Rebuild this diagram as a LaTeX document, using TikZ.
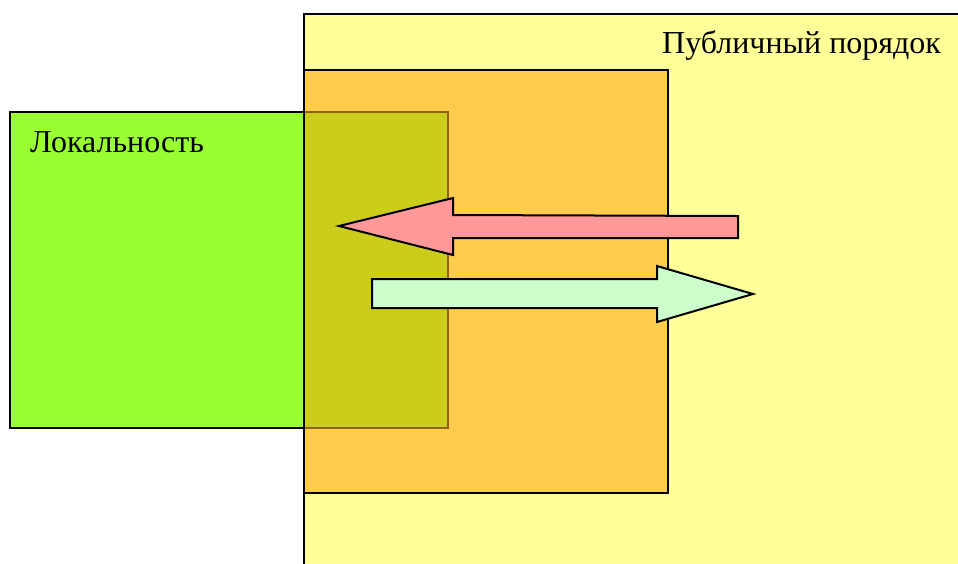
\documentclass[tikz,border=0pt]{standalone}
\usepackage{fontspec}
\setmainfont{Liberation Serif}
\definecolor{pubyellow}{HTML}{FFFF99}
\definecolor{midorange}{HTML}{FFCC4D}
\definecolor{locgreen}{HTML}{99FF33}
\definecolor{overolive}{HTML}{CCCC1A}
\definecolor{overedge}{HTML}{8C6414}
\definecolor{arrowred}{HTML}{FF9999}
\definecolor{arrowgreen}{HTML}{CCFFCC}
\tikzset{
  box/.style={draw=black, line width=2pt},
  blockarrow/.style={draw=black, line width=2pt, line join=miter},
  label/.style={inner sep=0pt, anchor=base west, font=\fontsize{32}{36}\selectfont}
}
\begin{document}
\begin{tikzpicture}[x=1pt,y=-1pt]
\useasboundingbox (0,0) rectangle (958,563);
\clip (0,0) rectangle (958,563);
\fill[white] (0,0) rectangle (958,563);
% public order (yellow)
\draw[box, fill=pubyellow] (304,14) rectangle (975,580);
% middle orange
\draw[box, fill=midorange] (304,70) rectangle (668,493);
% locality (green)
\draw[box, fill=locgreen] (10,112) rectangle (448,428);
% overlap
\fill[overolive] (304,112) rectangle (448,428);
\draw[overedge, line width=2pt] (304,112) -- (448,112) -- (448,428) -- (304,428);
\draw[black, line width=2pt] (304,70) -- (304,493);
% arrows
\draw[blockarrow, fill=arrowred] (339,226) -- (453,198) -- (453,215) -- (738,216) -- (738,238) -- (453,238) -- (453,255) -- cycle;
\draw[blockarrow, fill=arrowgreen] (372,279) -- (657,279) -- (657,266) -- (753,294) -- (657,322) -- (657,308) -- (372,308) -- cycle;
% labels
\node[label] (pub) at (662,53) {Публичный порядок};
\node[label] (loc) at (30,152) {Локальность};
\end{tikzpicture}
\end{document}
